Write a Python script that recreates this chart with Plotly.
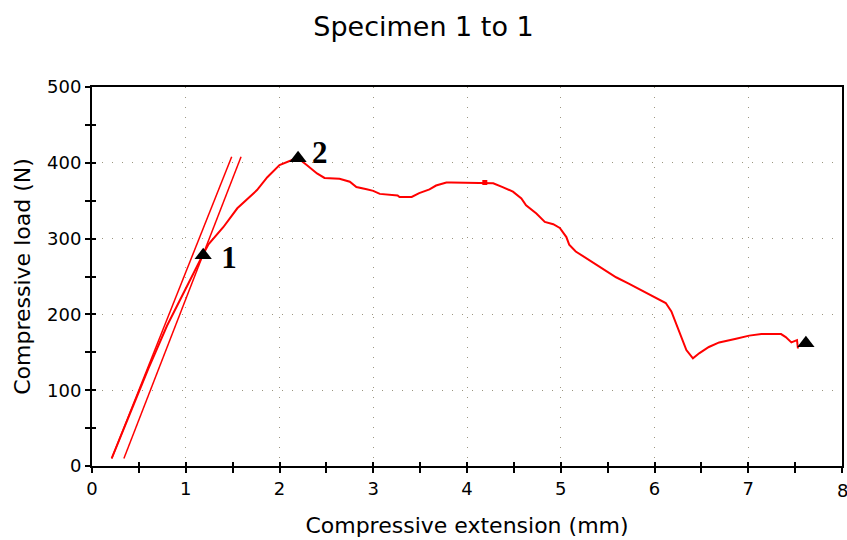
import plotly.graph_objects as go

# Main load-extension curve
ext_mm = [0.21, 0.40, 0.60, 0.80, 0.95, 1.08, 1.18, 1.24, 1.40, 1.55, 1.76, 1.87, 2.00, 2.16, 2.20,
          2.29, 2.40, 2.48, 2.64, 2.75, 2.82, 2.93, 3.00, 3.07, 3.26, 3.28, 3.41, 3.49, 3.60, 3.67,
          3.78, 3.83, 4.28, 4.38, 4.49, 4.58, 4.63, 4.74, 4.83, 4.92, 4.99, 5.06, 5.09, 5.16, 5.27,
          5.38, 5.48, 5.59, 5.72, 5.84, 6.02, 6.12, 6.18, 6.23, 6.28, 6.34, 6.41, 6.48, 6.58, 6.69,
          6.87, 7.01, 7.14, 7.35, 7.40, 7.46, 7.52, 7.53]
load_n = [10, 68, 128, 185, 222, 255, 278, 292, 315, 340, 364, 381, 397, 405, 406,
          397, 386, 380, 379, 375, 368, 365, 363, 359, 357, 355, 355, 360, 365, 370,
          374, 374, 373, 368, 362, 353, 344, 333, 322, 319, 314, 302, 292, 283, 274,
          266, 257, 249, 241, 233, 221, 215, 204, 188, 171, 153, 142, 149, 157, 163,
          168, 172, 174, 174, 170, 163, 166, 155]

# Tangent (modulus) lines
tangent_a_x = [0.21, 1.49]
tangent_a_y = [10, 408]
tangent_b_x = [0.34, 1.59]
tangent_b_y = [10, 408]

# Annotated points
point_x = [1.186, 2.198, 7.615]
point_y = [278, 406, 162]
label_text = ["1", "2"]
label_x = [1.46, 2.43]
label_y = [272, 410]

# small dot on the curve
dot_x = [4.19]
dot_y = [374]

# last x tick label (partly cut off at the right edge in the original)
last_tick_value = 8
last_tick_label = "8"

title_text = "Specimen 1 to 1"
x_title = "Compressive extension (mm)"
y_title = "Compressive load (N)"

RED = "#ff0000"
font_main = "DejaVu Sans, Verdana, sans-serif"

fig = go.Figure()
fig.add_trace(go.Scatter(x=tangent_a_x, y=tangent_a_y, mode="lines",
                         line=dict(color=RED, width=1.5), showlegend=False, hoverinfo="skip"))
fig.add_trace(go.Scatter(x=tangent_b_x, y=tangent_b_y, mode="lines",
                         line=dict(color=RED, width=1.5), showlegend=False, hoverinfo="skip"))
fig.add_trace(go.Scatter(x=ext_mm, y=load_n, mode="lines",
                         line=dict(color=RED, width=2, shape="linear"), showlegend=False))
fig.add_trace(go.Scatter(x=dot_x, y=dot_y, mode="markers",
                         marker=dict(color=RED, size=5, symbol="square"), showlegend=False))
fig.add_trace(go.Scatter(x=point_x, y=point_y, mode="markers",
                         marker=dict(color="black", size=15, symbol="triangle-up"), showlegend=False))
fig.add_trace(go.Scatter(x=label_x, y=label_y, mode="text", text=label_text,
                         textfont=dict(family="Liberation Serif, Times New Roman, serif", size=31, color="black"),
                         texttemplate="<b>%{text}</b>", showlegend=False, hoverinfo="skip"))
# invisible trace on overlay axes (for inner tick marks)
fig.add_trace(go.Scatter(x=[0], y=[0], xaxis="x2", yaxis="y2", mode="markers",
                         marker=dict(opacity=0), showlegend=False, hoverinfo="skip"))

fig.add_annotation(x=last_tick_value, xref="x", y=0, yref="paper", text=last_tick_label,
                   showarrow=False, xanchor="center", yanchor="middle", yshift=-24,
                   font=dict(family=font_main, size=18, color="black"))

grid = dict(showgrid=True, gridcolor="#9c9680", gridwidth=1, griddash="1px,9px")

fig.update_layout(
    width=847, height=540,
    margin=dict(l=92, r=5, t=87, b=74, autoexpand=False),
    paper_bgcolor="white", plot_bgcolor="white",
    title=dict(text=title_text, x=0.5, xanchor="center", y=0.95, yanchor="middle",
               font=dict(family=font_main, size=27, color="black")),
    font=dict(family=font_main, color="black"),
    xaxis=dict(range=[0, 8], dtick=1, tick0=0, showline=True, linecolor="black", linewidth=2,
               mirror=True, ticks="outside", ticklen=5, tickwidth=1.5, tickcolor="black",
               minor=dict(dtick=0.5, ticks="outside", ticklen=5, tickwidth=1.5, tickcolor="black",
                          showgrid=False),
               tickfont=dict(size=18), zeroline=False, automargin=False,
               title=dict(text=x_title, font=dict(size=22), standoff=20), **grid),
    yaxis=dict(range=[0, 500], dtick=100, tick0=0, showline=True, linecolor="black", linewidth=2,
               mirror=True, ticks="outside", ticklen=5, tickwidth=1.5, tickcolor="black",
               minor=dict(dtick=50, ticks="outside", ticklen=5, tickwidth=1.5, tickcolor="black",
                          showgrid=False),
               tickfont=dict(size=18), zeroline=False, automargin=False,
               title=dict(text=y_title, font=dict(size=22), standoff=10), **grid),
    xaxis2=dict(range=[0, 8], overlaying="x", side="bottom", dtick=1, tick0=0, showgrid=False,
                ticks="inside", ticklen=4, tickwidth=1.5, tickcolor="black", showticklabels=False,
                minor=dict(dtick=0.5, ticks="inside", ticklen=4, tickwidth=1.5, tickcolor="black"),
                zeroline=False, showline=False, automargin=False),
    yaxis2=dict(range=[0, 500], overlaying="y", side="left", dtick=100, tick0=0, showgrid=False,
                ticks="inside", ticklen=4, tickwidth=1.5, tickcolor="black", showticklabels=False,
                minor=dict(dtick=50, ticks="inside", ticklen=4, tickwidth=1.5, tickcolor="black"),
                zeroline=False, showline=False, automargin=False),
)

fig.write_html("out.html")
